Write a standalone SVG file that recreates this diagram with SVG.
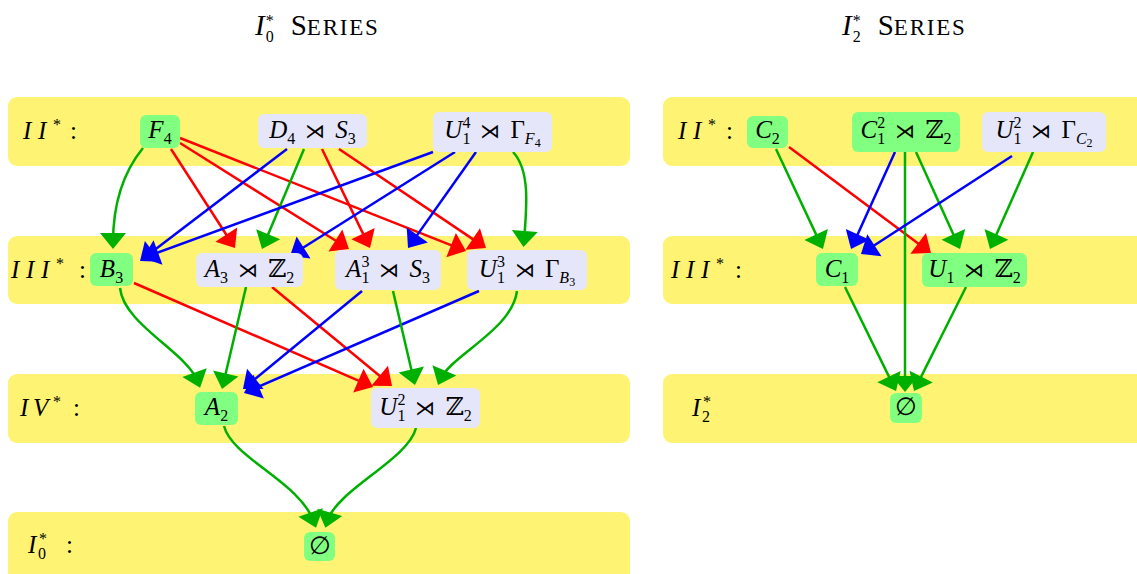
<svg xmlns="http://www.w3.org/2000/svg" width="1137" height="574" viewBox="0 0 1137 574">
<style>
.t{font-family:'Liberation Serif','DejaVu Serif',serif;font-size:25px;fill:#000}
.ti{font-family:'Liberation Serif','DejaVu Serif',serif;font-size:29px;fill:#000}
.i{font-style:italic}
.s{font-size:16px}
.ss{font-size:12px}
.op{font-size:20px}
.band{fill:#FFF373}
.ng{fill:#80FF80}
.nl{fill:#E6E6FA}
.e{fill:none;stroke-width:2.5}
.g{stroke:#00B000;marker-end:url(#ag)}
.r{stroke:#FF0000;marker-end:url(#ar)}
.b{stroke:#0000FF;marker-end:url(#ab)}
</style>
<defs>
<marker id="ag" markerUnits="userSpaceOnUse" orient="auto" overflow="visible" refX="0" refY="0" markerWidth="1" markerHeight="1"><path d="M6,0 L-10,-13 L-10,13 Z" fill="#00B000"/></marker>
<marker id="ar" markerUnits="userSpaceOnUse" orient="auto" overflow="visible" refX="0" refY="0" markerWidth="1" markerHeight="1"><path d="M6,0 L-10,-13 L-10,13 Z" fill="#FF0000"/></marker>
<marker id="ab" markerUnits="userSpaceOnUse" orient="auto" overflow="visible" refX="0" refY="0" markerWidth="1" markerHeight="1"><path d="M6,0 L-10,-13 L-10,13 Z" fill="#0000FF"/></marker>
</defs>

<g id="titles">
<text class="ti" x="255" y="35"><tspan class="i">I</tspan><tspan font-size="16" dx="1" dy="-9">*</tspan><tspan font-size="16" dx="-8" dy="16">0</tspan><tspan dx="17" dy="-7">S</tspan><tspan font-size="23" letter-spacing="1.8">ERIES</tspan></text>
<text class="ti" x="842" y="35"><tspan class="i">I</tspan><tspan font-size="16" dx="1" dy="-9">*</tspan><tspan font-size="16" dx="-8" dy="16">2</tspan><tspan dx="17" dy="-7">S</tspan><tspan font-size="23" letter-spacing="1.8">ERIES</tspan></text>
</g>

<g id="bands">
<rect class="band" x="8" y="97" width="622" height="69" rx="9"/>
<rect class="band" x="8" y="236" width="622" height="68" rx="9"/>
<rect class="band" x="8" y="374" width="622" height="69" rx="9"/>
<rect class="band" x="8" y="512" width="622" height="80" rx="9"/>
<rect class="band" x="663" y="97" width="500" height="69" rx="9"/>
<rect class="band" x="663" y="236" width="500" height="68" rx="9"/>
<rect class="band" x="663" y="374" width="500" height="69" rx="9"/>
</g>

<g id="labels">
<text class="t" y="139"><tspan class="i" x="23">I</tspan><tspan class="i" x="38">I</tspan><tspan class="s" x="53" y="130">*</tspan><tspan x="70" y="139">:</tspan></text>
<text class="t" y="278"><tspan class="i" x="11">I</tspan><tspan class="i" x="26">I</tspan><tspan class="i" x="41">I</tspan><tspan class="s" x="56" y="269">*</tspan><tspan x="79" y="278">:</tspan></text>
<text class="t" y="416"><tspan class="i" x="20">I</tspan><tspan class="i" x="33">V</tspan><tspan class="s" x="53" y="407">*</tspan><tspan x="73" y="416">:</tspan></text>
<text class="t" y="553"><tspan class="i" x="28">I</tspan><tspan class="s" x="39" y="544">*</tspan><tspan class="s" x="38" y="559">0</tspan><tspan x="66" y="553">:</tspan></text>
<text class="t" y="139"><tspan class="i" x="678">I</tspan><tspan class="i" x="693">I</tspan><tspan class="s" x="708" y="130">*</tspan><tspan x="726" y="139">:</tspan></text>
<text class="t" y="278"><tspan class="i" x="671">I</tspan><tspan class="i" x="686">I</tspan><tspan class="i" x="701">I</tspan><tspan class="s" x="716" y="269">*</tspan><tspan x="735" y="278">:</tspan></text>
<text class="t" y="416"><tspan class="i" x="692">I</tspan><tspan class="s" x="703" y="407">*</tspan><tspan class="s" x="702" y="422">2</tspan></text>
</g>

<g id="connectors">
<path class="e g" d="M143,148 C125,170 113,200 113,243"/>
<path class="e r" d="M171,149 L231.7,243"/>
<path class="e r" d="M180,143 L343.9,245.8"/>
<path class="e r" d="M180,138 L460.4,248.8"/>
<path class="e b" d="M287,149 L144.8,257.4"/>
<path class="e g" d="M304,149 L264.3,243.5"/>
<path class="e r" d="M322,149 L367.4,242.6"/>
<path class="e r" d="M339,149 L481,244.6"/>
<path class="e b" d="M433,152 L148.6,255.9"/>
<path class="e b" d="M455,152 L295.1,252.8"/>
<path class="e b" d="M476,152 L411.5,243.1"/>
<path class="e g" d="M513,152 C530,170 527,205 524,241"/>
<path class="e g" d="M120,288 C124,325 187,352 198,382"/>
<path class="e r" d="M134,283 L367.5,384.6"/>
<path class="e g" d="M246,287 L223.4,383.2"/>
<path class="e r" d="M272,287 L387.4,382.2"/>
<path class="e b" d="M362,291 L247.6,385.2"/>
<path class="e b" d="M479,291 L249.5,390.6"/>
<path class="e g" d="M393,291 L413.6,379.2"/>
<path class="e g" d="M517,291 C512,330 451,355 440.4,379.5"/>
<path class="e g" d="M224,426 C232,458 300,482 314,522"/>
<path class="e g" d="M416,428 C408,460 336,490 327,522"/>
<path class="e g" d="M776,149 L820.4,243.6"/>
<path class="e r" d="M789,147 L926.2,249.4"/>
<path class="e b" d="M895,152 L853.5,243.5"/>
<path class="e g" d="M905,152 L905,386"/>
<path class="e g" d="M916,152 L957.5,243.5"/>
<path class="e b" d="M1012,156 L866,250.7"/>
<path class="e g" d="M1033,152 L992.4,243.5"/>
<path class="e g" d="M845,287 L893.4,385.6"/>
<path class="e g" d="M966,287 L916.7,385.6"/>
</g>

<g id="n_F4"><rect class="ng" x="140" y="115" width="40" height="33" rx="6"/><text class="t" x="160" y="138" text-anchor="middle"><tspan class="i">F</tspan><tspan class="s" dy="6">4</tspan></text></g>
<g id="n_D4S3"><rect class="nl" x="258" y="114" width="109" height="34" rx="6"/><text class="t" x="312.5" y="138" text-anchor="middle"><tspan class="i">D</tspan><tspan class="s" dy="6">4</tspan><tspan class="op" dx="10" dy="-6">⋊</tspan><tspan class="i" dx="10">S</tspan><tspan class="s" dy="6">3</tspan></text></g>
<g id="n_U14GF4"><rect class="nl" x="433" y="112" width="119" height="40" rx="6"/><text class="t" x="492.5" y="138" text-anchor="middle"><tspan class="i">U</tspan><tspan class="s" dy="-10">4</tspan><tspan class="s" dx="-8" dy="16">1</tspan><tspan class="op" dx="10" dy="-6">⋊</tspan><tspan dx="10">Γ</tspan><tspan class="s i" dy="6">F</tspan><tspan class="ss" dy="3">4</tspan></text></g>
<g id="n_B3"><rect class="ng" x="90" y="253" width="43" height="33" rx="6"/><text class="t" x="111.5" y="277" text-anchor="middle"><tspan class="i">B</tspan><tspan class="s" dy="6">3</tspan></text></g>
<g id="n_A3Z2"><rect class="nl" x="196" y="253" width="107" height="34" rx="6"/><text class="t" x="249.5" y="277" text-anchor="middle"><tspan class="i">A</tspan><tspan class="s" dy="6">3</tspan><tspan class="op" dx="10" dy="-6">⋊</tspan><tspan dx="10">ℤ</tspan><tspan class="s" dy="6">2</tspan></text></g>
<g id="n_A13S3"><rect class="nl" x="335" y="250" width="106" height="40" rx="6"/><text class="t" x="388" y="277" text-anchor="middle"><tspan class="i">A</tspan><tspan class="s" dy="-10">3</tspan><tspan class="s" dx="-8" dy="16">1</tspan><tspan class="op" dx="10" dy="-6">⋊</tspan><tspan class="i" dx="10">S</tspan><tspan class="s" dy="6">3</tspan></text></g>
<g id="n_U13GB3"><rect class="nl" x="467" y="250" width="120" height="40" rx="6"/><text class="t" x="527" y="277" text-anchor="middle"><tspan class="i">U</tspan><tspan class="s" dy="-10">3</tspan><tspan class="s" dx="-8" dy="16">1</tspan><tspan class="op" dx="10" dy="-6">⋊</tspan><tspan dx="10">Γ</tspan><tspan class="s i" dy="6">B</tspan><tspan class="ss" dy="3">3</tspan></text></g>
<g id="n_A2"><rect class="ng" x="195" y="392" width="43" height="33" rx="6"/><text class="t" x="216.5" y="415" text-anchor="middle"><tspan class="i">A</tspan><tspan class="s" dy="6">2</tspan></text></g>
<g id="n_U12Z2"><rect class="nl" x="371" y="388" width="109" height="40" rx="6"/><text class="t" x="425.5" y="415" text-anchor="middle"><tspan class="i">U</tspan><tspan class="s" dy="-10">2</tspan><tspan class="s" dx="-8" dy="16">1</tspan><tspan class="op" dx="10" dy="-6">⋊</tspan><tspan dx="10">ℤ</tspan><tspan class="s" dy="6">2</tspan></text></g>
<g id="n_empty0"><rect class="ng" x="304" y="532" width="31" height="29" rx="6"/><text class="t" x="319.5" y="554" text-anchor="middle" font-size="22">∅</text></g>

<g id="n_C2"><rect class="ng" x="747" y="116" width="41" height="32" rx="6"/><text class="t" x="767.5" y="138" text-anchor="middle"><tspan class="i">C</tspan><tspan class="s" dy="6">2</tspan></text></g>
<g id="n_C12Z2"><rect class="ng" x="852" y="112" width="108" height="40" rx="6"/><text class="t" x="906" y="138" text-anchor="middle"><tspan class="i">C</tspan><tspan class="s" dy="-10">2</tspan><tspan class="s" dx="-8" dy="16">1</tspan><tspan class="op" dx="10" dy="-6">⋊</tspan><tspan dx="10">ℤ</tspan><tspan class="s" dy="6">2</tspan></text></g>
<g id="n_U12GC2"><rect class="nl" x="982" y="112" width="124" height="40" rx="6"/><text class="t" x="1044" y="138" text-anchor="middle"><tspan class="i">U</tspan><tspan class="s" dy="-10">2</tspan><tspan class="s" dx="-8" dy="16">1</tspan><tspan class="op" dx="10" dy="-6">⋊</tspan><tspan dx="10">Γ</tspan><tspan class="s i" dy="6">C</tspan><tspan class="ss" dy="3">2</tspan></text></g>
<g id="n_C1"><rect class="ng" x="816" y="253" width="42" height="33" rx="6"/><text class="t" x="837" y="277" text-anchor="middle"><tspan class="i">C</tspan><tspan class="s" dy="6">1</tspan></text></g>
<g id="n_U1Z2"><rect class="ng" x="922" y="253" width="105" height="34" rx="6"/><text class="t" x="974.5" y="277" text-anchor="middle"><tspan class="i">U</tspan><tspan class="s" dy="6">1</tspan><tspan class="op" dx="10" dy="-6">⋊</tspan><tspan dx="10">ℤ</tspan><tspan class="s" dy="6">2</tspan></text></g>
<g id="n_empty2"><rect class="ng" x="890" y="393" width="32" height="30" rx="6"/><text class="t" x="906" y="415" text-anchor="middle" font-size="22">∅</text></g>
</svg>
